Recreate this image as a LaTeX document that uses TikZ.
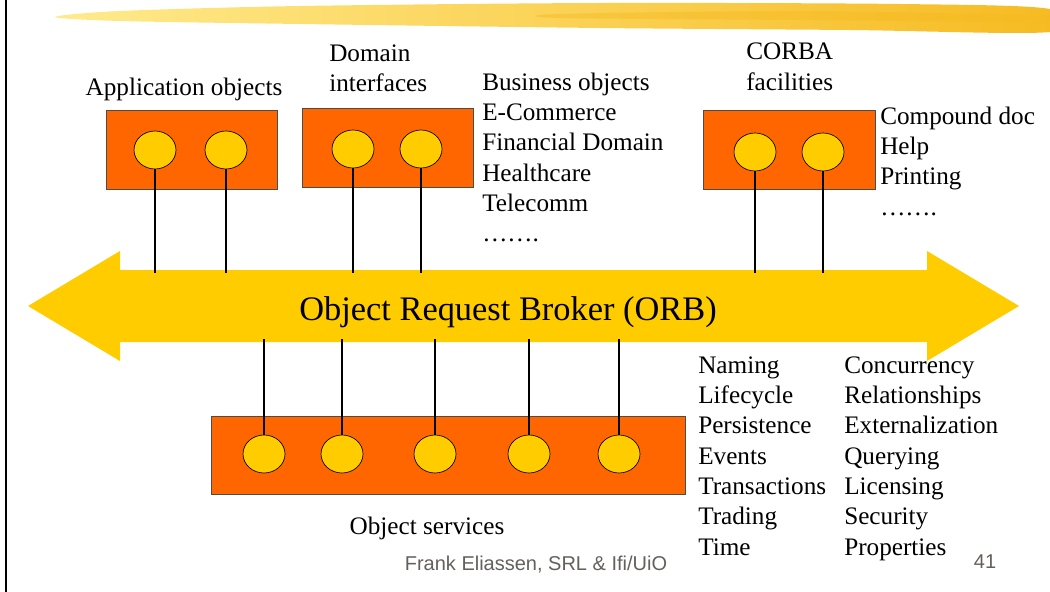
\documentclass[tikz,border=0pt]{standalone}
\usepackage{fontspec}
\setmainfont{Liberation Serif}
\newfontfamily\footfont{Liberation Sans}
\usetikzlibrary{shapes.geometric}
\definecolor{orbyellow}{RGB}{255,204,0}
\definecolor{boxorange}{RGB}{255,102,0}
\definecolor{footgray}{RGB}{100,96,92}
\definecolor{brushlight}{RGB}{255,234,140}
\definecolor{brushdark}{RGB}{246,186,32}
\tikzset{
  objbox/.style={draw=black!70, fill=boxorange, line width=0.6pt, inner sep=0pt},
  ball/.style={draw, ellipse, fill=orbyellow, line width=0.5pt, minimum width=31.5pt, minimum height=28.5pt, inner sep=0pt},
  stick/.style={line width=2.2pt},
  lbl/.style={inner sep=0pt, font=\fontsize{18.9}{22.75}\selectfont, align=left},
}
\def\topball(#1,#2,#3){
  \node[ball] (#1) at (#2,#3) {};
  \draw[stick] (#1.south) -- (#1.south |- orbtop);
}
\def\lowball(#1,#2,#3){
  \node[ball] (#1) at (#2,#3) {};
  \draw[stick] (#1.north) -- (#1.north |- orbbot);
}
\begin{document}
\begin{tikzpicture}[x=0.75pt, y=-0.75pt]
\useasboundingbox (0,0) rectangle (1050,592);
\shade[left color=brushlight, right color=brushdark] plot[smooth cycle] coordinates {(55,17) (120,11) (300,6) (600,3) (900,4) (1050,9) (1050,32) (850,30) (600,28) (300,24) (120,21)};
\fill[brushdark, opacity=0.45] plot[smooth cycle] coordinates {(560,14) (800,11) (1050,16) (1050,22) (800,20) (560,18)};
\draw[line width=1.5pt] (6,0) -- (6,592);
\fill[orbyellow] (28,306) -- (120,251) -- (120,270) -- (927,270) -- (927,251) -- (1019,306) -- (927,361) -- (927,342) -- (120,342) -- (120,361) -- cycle;
\coordinate (orbtop) at (0,273);
\coordinate (orbbot) at (0,339);
\node[anchor=base, inner sep=0pt, font=\fontsize{25.8}{30}\selectfont] (orb) at (508,320) {Object Request Broker (ORB)};
\node[objbox, minimum width=128.25pt, minimum height=59.25pt] (appbox) at (191.5,149.5) {};
\node[objbox, minimum width=128.25pt, minimum height=59.25pt] (dombox) at (387.5,147.5) {};
\node[objbox, minimum width=129pt, minimum height=59.25pt] (facbox) at (789,149.5) {};
\node[objbox, minimum width=355.5pt, minimum height=58.5pt] (svcbox) at (448,455) {};
\topball(app1,155,150)
\topball(app2,226,150)
\topball(dom1,353,149)
\topball(dom2,421,149)
\topball(fac1,755,152)
\topball(fac2,823,152)
\lowball(svc1,264,454)
\lowball(svc2,342,454)
\lowball(svc3,435,454)
\lowball(svc4,529,454)
\lowball(svc5,619,454)
\node[lbl, anchor=base] (applbl) at (184,96) {Application objects};
\node[lbl, anchor=base west] (domlbl) at (329,91.7) {Domain\\interfaces};
\node[lbl, anchor=base west] (domlist) at (482,241.9) {Business objects\\E-Commerce\\Financial Domain\\Healthcare\\Telecomm\\…….};
\node[lbl, anchor=base west] (faclbl) at (746,90) {CORBA\\facilities};
\node[lbl, anchor=base west] (faclist) at (880,215) {Compound doc\\Help\\Printing\\…….};
\node[lbl, anchor=base west] (svclistA) at (698,555) {Naming\\Lifecycle\\Persistence\\Events\\Transactions\\Trading\\Time};
\node[lbl, anchor=base west] (svclistB) at (844,555) {Concurrency\\Relationships\\Externalization\\Querying\\Licensing\\Security\\Properties};
\node[lbl, anchor=base] (svclbl) at (427,534) {Object services};
\node[anchor=base, inner sep=0pt, text=footgray, font=\footfont\fontsize{15}{18}\selectfont] (foot) at (536,570) {Frank Eliassen, SRL \& Ifi/UiO};
\node[anchor=base, inner sep=0pt, text=footgray, font=\footfont\fontsize{15}{18}\selectfont] (pageno) at (985,568) {41};
\end{tikzpicture}
\end{document}
